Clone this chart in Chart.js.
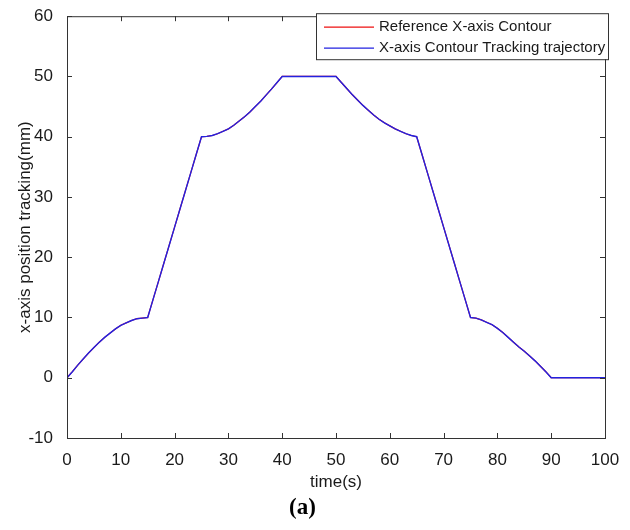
<!DOCTYPE html>
<html>
<head>
<meta charset="utf-8">
<script src="https://cdn.jsdelivr.net/npm/chart.js@4.4.1/dist/chart.umd.min.js"></script>
<style>
  html, body { margin: 0; padding: 0; background: #fff; }
  #wrap { width: 630px; height: 530px; }
</style>
</head>
<body>
<div id="wrap"><canvas id="grafico"></canvas></div>
<script>
// tiempo (s)
var tiempo = [];
for (var i = 0; i <= 100; i++) tiempo.push(i);

// posicion de referencia eje X (mm)
var referenciaX = [
    0, 1.0, 2.1, 3.1, 4.1, 5.0, 5.9, 6.7, 7.4, 8.1, 8.7, 9.1, 9.5, 9.8, 9.9, 10.0,
    13, 16, 19, 22, 25, 28, 31, 34, 37, 40,
    40.05, 40.2, 40.5, 40.9, 41.3, 41.9, 42.6, 43.3, 44.1, 45.0, 45.9, 46.9, 47.9, 48.95, 50,
    50, 50, 50, 50, 50, 50, 50, 50, 50, 50,
    49.0, 48.0, 47.0, 46.1, 45.2, 44.4, 43.6, 42.9, 42.3, 41.8, 41.3, 40.9, 40.5, 40.2, 40.0,
    37, 34, 31, 28, 25, 22, 19, 16, 13, 10,
    9.9, 9.6, 9.2, 8.8, 8.2, 7.5, 6.7, 5.9, 5.1, 4.4, 3.6, 2.8, 1.9, 1.0, 0,
    0, 0, 0, 0, 0, 0, 0, 0, 0, 0
];
// trayectoria de seguimiento (coincide con la referencia)
var seguimientoX = referenciaX.slice();

var ticksX = [0, 10, 20, 30, 40, 50, 60, 70, 80, 90, 100];
var ticksY = [-10, 0, 10, 20, 30, 40, 50, 60];

var etiquetas = ['Reference X-axis Contour', 'X-axis Contour Tracking trajectory'];
var colores = ['#ee1111', '#2222e0'];
var colorEje = '#1a1a1a';
var fuente = '"Liberation Sans", Arial, sans-serif';

function puntos(valores) {
    return valores.map(function(v, k) { return { x: tiempo[k], y: v }; });
}

// marco tipo MATLAB con marcas hacia dentro y leyenda en recuadro
var marcoPlugin = {
    id: 'marco',
    afterDraw: function(chart) {
        var ctx = chart.ctx;
        var a = chart.chartArea;
        var sx = chart.scales.x, sy = chart.scales.y;
        ctx.save();
        ctx.strokeStyle = '#333';
        ctx.lineWidth = 1;
        ctx.strokeRect(a.left + 0.5, a.top + 0.5, a.right - a.left, a.bottom - a.top);
        ctx.beginPath();
        ticksX.forEach(function(t) {
            var px = Math.round(sx.getPixelForValue(t)) + 0.5;
            ctx.moveTo(px, a.bottom); ctx.lineTo(px, a.bottom - 5);
            ctx.moveTo(px, a.top); ctx.lineTo(px, a.top + 5);
        });
        ticksY.forEach(function(t) {
            var py = Math.round(sy.getPixelForValue(t)) + 0.5;
            ctx.moveTo(a.left, py); ctx.lineTo(a.left + 5, py);
            ctx.moveTo(a.right, py); ctx.lineTo(a.right - 5, py);
        });
        ctx.stroke();

        // leyenda
        var bx = a.left + 249, by = a.top - 3, bw = 292, bh = 46;
        ctx.fillStyle = '#fff';
        ctx.fillRect(bx, by, bw, bh);
        ctx.strokeStyle = '#333';
        ctx.strokeRect(bx + 0.5, by + 0.5, bw, bh);
        ctx.font = '15px ' + fuente;
        ctx.textBaseline = 'middle';
        etiquetas.forEach(function(txt, k) {
            var ly = by + 14 + k * 21;
            ctx.beginPath();
            ctx.strokeStyle = colores[k];
            ctx.lineWidth = 1.3;
            ctx.moveTo(bx + 8, ly);
            ctx.lineTo(bx + 58, ly);
            ctx.stroke();
            ctx.fillStyle = colorEje;
            ctx.fillText(txt, bx + 63, ly);
        });
        ctx.restore();
    }
};

var ctx = document.getElementById('grafico').getContext('2d');
var grafico = new Chart(ctx, {
    type: 'line',
    data: {
        datasets: [{
            label: etiquetas[0],
            data: puntos(referenciaX),
            borderColor: colores[0],
            borderWidth: 1.2,
            pointRadius: 0,
            fill: false,
            order: 1
        }, {
            label: etiquetas[1],
            data: puntos(seguimientoX),
            borderColor: colores[1],
            borderWidth: 1.4,
            pointRadius: 0,
            fill: false,
            order: 0
        }]
    },
    options: {
        responsive: true,
        maintainAspectRatio: false,
        animation: false,
        layout: { padding: { top: 16, right: 25, bottom: 0, left: 0 } },
        plugins: {
            legend: { display: false },
            tooltip: { enabled: false },
            title: {
                display: true,
                position: 'bottom',
                text: '(a)',
                color: '#000',
                font: { family: '"Liberation Serif", "Times New Roman", serif', size: 23, weight: 'bold' },
                padding: { top: 0, bottom: 8 }
            }
        },
        scales: {
            x: {
                type: 'linear',
                min: 0,
                max: 100,
                afterBuildTicks: function(s) { s.ticks = ticksX.map(function(v) { return { value: v }; }); },
                afterFit: function(s) { s.height = 56.4; },
                grid: { display: false },
                border: { display: true, color: '#333' },
                ticks: {
                    color: colorEje,
                    padding: 4,
                    maxRotation: 0,
                    font: { family: fuente, size: 17 }
                },
                title: {
                    display: true,
                    text: 'time(s)',
                    color: colorEje,
                    padding: { top: 0, bottom: 2 },
                    font: { family: fuente, size: 17 }
                }
            },
            y: {
                min: -10,
                max: 60,
                afterBuildTicks: function(s) { s.ticks = ticksY.map(function(v) { return { value: v }; }); },
                afterFit: function(s) { s.width = 67; },
                grid: { display: false },
                border: { display: true, color: '#333' },
                ticks: {
                    color: colorEje,
                    padding: 6,
                    font: { family: fuente, size: 17 }
                },
                title: {
                    display: true,
                    text: 'x-axis position tracking(mm)',
                    color: colorEje,
                    padding: { top: 15, bottom: 0 },
                    font: { family: fuente, size: 17 }
                }
            }
        }
    },
    plugins: [marcoPlugin]
});
</script>
</body>
</html>
